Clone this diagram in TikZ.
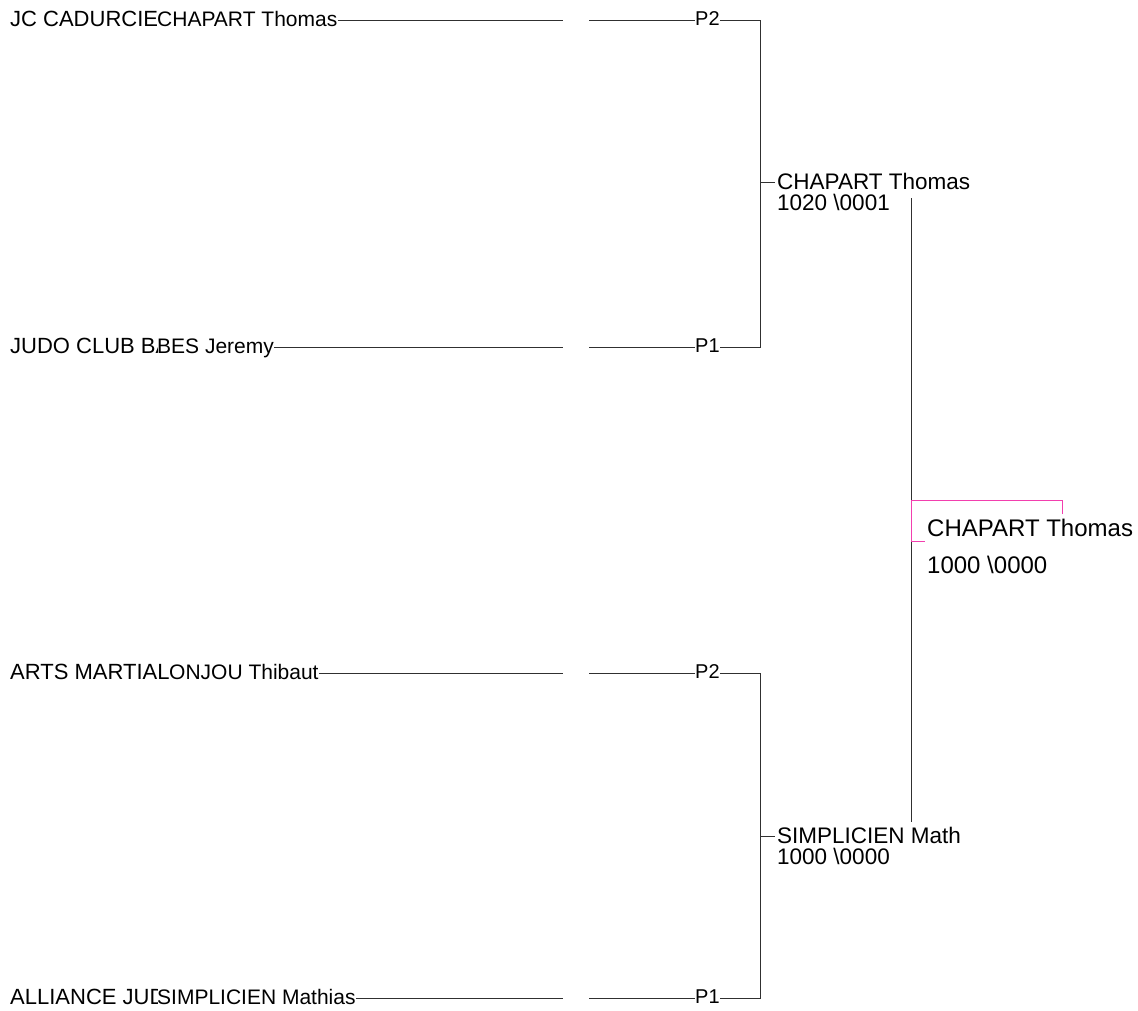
\documentclass[tikz,border=0pt]{standalone}
\usepackage{fontspec}
\setmainfont{Liberation Sans}
\definecolor{pinkc}{HTML}{F23FAE}
\definecolor{wirec}{HTML}{303030}
\begin{document}
\begin{tikzpicture}[x=1pt,y=-1pt,
  club/.style={font=\fontsize{22}{24}\selectfont, inner sep=0pt, anchor=base west},
  pname/.style={font=\fontsize{21}{24}\selectfont, inner sep=0pt, anchor=base west},
  ptxt/.style={font=\fontsize{20}{24}\selectfont, inner sep=0pt, anchor=base west},
  lab/.style={font=\fontsize{22.5}{26}\selectfont, inner sep=0pt, anchor=base west, text height=16pt, text depth=0pt},
  fin/.style={font=\fontsize{24}{28}\selectfont, inner sep=0pt, anchor=base west},
  wire/.style={draw=wirec, line width=0.8pt},
  pinkwire/.style={draw=pinkc, line width=1pt}]
\useasboundingbox (0,0) rectangle (1138,1010);
% ---- row 1
\begin{scope}\clip (0,0) rectangle (157,40);
\node[club] (k1) at (10,26) {JC CADURCIE};
\end{scope}
\node[pname] (n1) at (157,26) {CHAPART Thomas};
\coordinate (a1) at (563,20);
\coordinate (b1) at (589,20);
\node[ptxt] (p1) at (695,25) {P2};
% ---- row 2
\begin{scope}\clip (0,320) rectangle (157,370);
\node[club] (k2) at (10,353) {JUDO CLUB BA};
\end{scope}
\node[pname] (n2) at (157,353) {BES Jeremy};
\coordinate (a2) at (563,347);
\coordinate (b2) at (589,347);
\node[ptxt] (p2) at (695,352) {P1};
% ---- row 3
\begin{scope}\clip (0,650) rectangle (169,690);
\node[club] (k3) at (10,679) {ARTS MARTIAL};
\end{scope}
\node[pname] (n3) at (169,679) {ONJOU Thibaut};
\coordinate (a3) at (563,673);
\coordinate (b3) at (589,673);
\node[ptxt] (p3) at (695,678) {P2};
% ---- row 4
\begin{scope}\clip (0,975) rectangle (157,1010);
\node[club] (k4) at (10,1004) {ALLIANCE JUD};
\end{scope}
\node[pname] (n4) at (157,1004) {SIMPLICIEN Mathias};
\coordinate (a4) at (563,998);
\coordinate (b4) at (589,998);
\node[ptxt] (p4) at (695,1003) {P1};
% ---- row lines
\foreach \i in {1,2,3,4}{
  \draw[wire] (n\i.east |- a\i) -- (a\i);
  \draw[wire] (b\i) -- (p\i.west |- b\i);
}
% ---- bracket top
\coordinate (t1) at (760,20);
\coordinate (t2) at (760,347);
\draw[wire] (p1.east |- t1) -- (t1) -- (t2) -- (p2.east |- t2);
\coordinate (m1) at (760,182);
\coordinate (m1e) at (775,182);
\draw[wire] (m1) -- (m1e);
\node[lab] (w1) at (777,189) {CHAPART Thomas};
\node[lab] (s1) at (777,210) {1020 \textbackslash 0001};
% ---- bracket bottom
\coordinate (t3) at (760,673);
\coordinate (t4) at (760,998);
\draw[wire] (p3.east |- t3) -- (t3) -- (t4) -- (p4.east |- t4);
\coordinate (m2) at (760,836);
\coordinate (m2e) at (775,836);
\draw[wire] (m2) -- (m2e);
\node[lab] (w2) at (777,843) {SIMPLICIEN Math};
\node[lab] (s2) at (777,864) {1000 \textbackslash 0000};
% ---- final column
\coordinate (v1) at (911,198);
\coordinate (v2) at (911,822);
\coordinate (q1) at (911,500);
\coordinate (q2) at (1062,500);
\coordinate (q3) at (1062,514);
\coordinate (q4) at (911,541);
\coordinate (q5) at (925,541);
\draw[wire] (v1) -- (q1);
\draw[wire] (q4) -- (v2);
\draw[pinkwire] (q3) -- (q2) -- (q1) -- (q4) -- (q5);
\node[fin] (f1) at (927,536) {CHAPART Thomas};
\node[fin] (f2) at (927,573) {1000 \textbackslash 0000};
\end{tikzpicture}
\end{document}
